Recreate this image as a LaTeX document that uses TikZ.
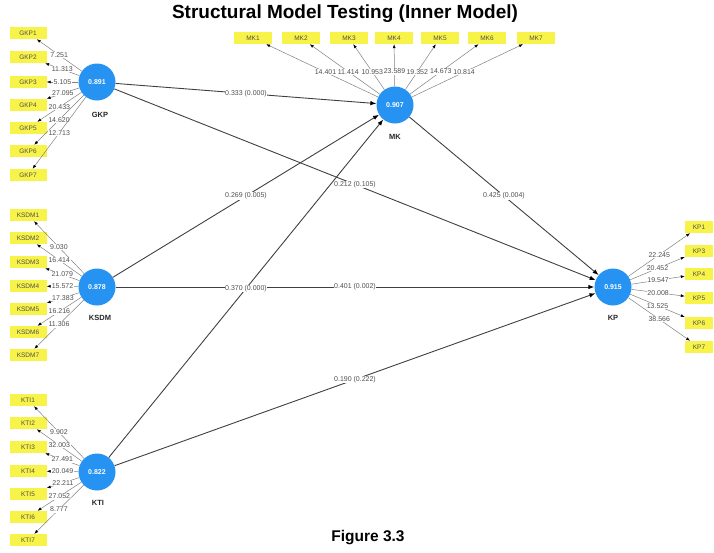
\documentclass[tikz,border=0pt]{standalone}
\usepackage{fontspec}
\setmainfont{Liberation Sans}
\usetikzlibrary{arrows.meta}
\definecolor{lvblue}{RGB}{38,146,242}
\definecolor{mvyellow}{RGB}{248,243,72}
\definecolor{txtgray}{RGB}{80,80,80}

\begin{document}
\begin{tikzpicture}
[every node/.style={inner sep=0pt},
 latent/.style={circle, minimum size=37pt, fill=lvblue, text=white, font=\fontsize{7}{8}\selectfont\bfseries},
 lvname/.style={text=black!85, font=\fontsize{7.5}{9}\selectfont\bfseries},
 manifest/.style={rectangle, minimum width=37pt, minimum height=12pt, fill=mvyellow, text=txtgray, font=\fontsize{6.5}{7}\selectfont},
 weight/.style={fill=white, inner sep=0.6pt, text=txtgray, font=\fontsize{7}{8}\selectfont},
 outer/.style={line width=0.5pt, draw=black!50, -{Latex[length=4pt, width=3pt, color=black]}},
 inner/.style={line width=0.9pt, draw=black!75, -{Latex[length=6pt, width=4.5pt, color=black]}},
 caption/.style={font=\fontsize{15.5}{18}\selectfont\bfseries}]
\useasboundingbox (0pt, 0pt) rectangle (714pt, -552pt);
\node (title) [caption, font=\fontsize{19}{22}\selectfont\bfseries] at (345pt, -14pt) {Structural Model Testing (Inner Model)};
\node (figno) [caption] at (368pt, -538pt) {Figure 3.3};
% latent variables
\node (GKP) [latent] at (97pt, -82pt) {0.891};
\node (KSDM) [latent] at (97pt, -287pt) {0.878};
\node (KTI) [latent] at (97pt, -472pt) {0.822};
\node (MK) [latent] at (395pt, -105pt) {0.907};
\node (KP) [latent] at (613pt, -287pt) {0.915};
\node (GKPname) [lvname] at (100pt, -115pt) {GKP};
\node (KSDMname) [lvname] at (100pt, -318pt) {KSDM};
\node (KTIname) [lvname] at (98pt, -503pt) {KTI};
\node (MKname) [lvname] at (395pt, -137pt) {MK};
\node (KPname) [lvname] at (613pt, -318pt) {KP};
% indicators GKP
\node (GKP1) [manifest] at (28pt, -33pt) {GKP1};
\node (GKP2) [manifest] at (28pt, -57pt) {GKP2};
\node (GKP3) [manifest] at (28pt, -82pt) {GKP3};
\node (GKP4) [manifest] at (28pt, -105pt) {GKP4};
\node (GKP5) [manifest] at (28pt, -128pt) {GKP5};
\node (GKP6) [manifest] at (28pt, -151pt) {GKP6};
\node (GKP7) [manifest] at (28pt, -175pt) {GKP7};
% indicators KSDM
\node (KSDM1) [manifest] at (28pt, -215pt) {KSDM1};
\node (KSDM2) [manifest] at (28pt, -238pt) {KSDM2};
\node (KSDM3) [manifest] at (28pt, -262pt) {KSDM3};
\node (KSDM4) [manifest] at (28pt, -286pt) {KSDM4};
\node (KSDM5) [manifest] at (28pt, -309pt) {KSDM5};
\node (KSDM6) [manifest] at (28pt, -332pt) {KSDM6};
\node (KSDM7) [manifest] at (28pt, -355pt) {KSDM7};
% indicators KTI
\node (KTI1) [manifest] at (28pt, -400pt) {KTI1};
\node (KTI2) [manifest] at (28pt, -423pt) {KTI2};
\node (KTI3) [manifest] at (28pt, -447pt) {KTI3};
\node (KTI4) [manifest] at (28pt, -471pt) {KTI4};
\node (KTI5) [manifest] at (28pt, -494pt) {KTI5};
\node (KTI6) [manifest] at (28pt, -517pt) {KTI6};
\node (KTI7) [manifest] at (28pt, -540pt) {KTI7};
% indicators MK
\node (MK1) [manifest, minimum width=38pt] at (253pt, -38pt) {MK1};
\node (MK2) [manifest, minimum width=38pt] at (301pt, -38pt) {MK2};
\node (MK3) [manifest, minimum width=38pt] at (349pt, -38pt) {MK3};
\node (MK4) [manifest, minimum width=38pt] at (394pt, -38pt) {MK4};
\node (MK5) [manifest, minimum width=38pt] at (440pt, -38pt) {MK5};
\node (MK6) [manifest, minimum width=38pt] at (487pt, -38pt) {MK6};
\node (MK7) [manifest, minimum width=38pt] at (536pt, -38pt) {MK7};
% indicators KP
\node (KP1) [manifest, minimum width=28pt] at (699pt, -227pt) {KP1};
\node (KP3) [manifest, minimum width=28pt] at (699pt, -251pt) {KP3};
\node (KP4) [manifest, minimum width=28pt] at (699pt, -274pt) {KP4};
\node (KP5) [manifest, minimum width=28pt] at (699pt, -298pt) {KP5};
\node (KP6) [manifest, minimum width=28pt] at (699pt, -323pt) {KP6};
\node (KP7) [manifest, minimum width=28pt] at (699pt, -347pt) {KP7};
% outer model
\draw [outer] (GKP) to node [weight] {7.251} (GKP1);
\draw [outer] (GKP) to node [weight] {11.313} (GKP2);
\draw [outer] (GKP) to node [weight] {5.105} (GKP3);
\draw [outer] (GKP) to node [weight] {27.095} (GKP4);
\draw [outer] (GKP) to node [weight] {20.433} (GKP5);
\draw [outer] (GKP) to node [weight] {14.620} (GKP6);
\draw [outer] (GKP) to node [weight] {12.713} (GKP7);
\draw [outer] (KSDM) to node [weight] {9.030} (KSDM1);
\draw [outer] (KSDM) to node [weight] {16.414} (KSDM2);
\draw [outer] (KSDM) to node [weight] {21.079} (KSDM3);
\draw [outer] (KSDM) to node [weight] {15.572} (KSDM4);
\draw [outer] (KSDM) to node [weight] {17.383} (KSDM5);
\draw [outer] (KSDM) to node [weight] {16.216} (KSDM6);
\draw [outer] (KSDM) to node [weight] {11.306} (KSDM7);
\draw [outer] (KTI) to node [weight] {9.902} (KTI1);
\draw [outer] (KTI) to node [weight] {32.003} (KTI2);
\draw [outer] (KTI) to node [weight] {27.491} (KTI3);
\draw [outer] (KTI) to node [weight] {20.049} (KTI4);
\draw [outer] (KTI) to node [weight] {22.211} (KTI5);
\draw [outer] (KTI) to node [weight] {27.052} (KTI6);
\draw [outer] (KTI) to node [weight] {8.777} (KTI7);
\draw [outer] (MK) to node [weight, pos=0.47] {14.401} (MK1);
\draw [outer] (MK) to node [weight, pos=0.45] {11.414} (MK2);
\draw [outer] (MK) to node [weight, pos=0.39] {10.953} (MK3);
\draw [outer] (MK) to node [weight, pos=0.35] {23.589} (MK4);
\draw [outer] (MK) to node [weight, pos=0.39] {19.352} (MK5);
\draw [outer] (MK) to node [weight, pos=0.45] {14.673} (MK6);
\draw [outer] (MK) to node [weight, pos=0.47] {10.814} (MK7);
\draw [outer] (KP) to node [weight] {22.245} (KP1);
\draw [outer] (KP) to node [weight] {20.452} (KP3);
\draw [outer] (KP) to node [weight] {19.547} (KP4);
\draw [outer] (KP) to node [weight] {20.008} (KP5);
\draw [outer] (KP) to node [weight] {13.525} (KP6);
\draw [outer] (KP) to node [weight] {38.566} (KP7);
% inner model
\draw [inner] (GKP) to node [weight] {0.333 (0.000)} (MK);
\draw [inner] (GKP) to node [weight] {0.212 (0.105)} (KP);
\draw [inner] (KSDM) to node [weight] {0.269 (0.005)} (MK);
\draw [inner] (KSDM) to node [weight] {0.401 (0.002)} (KP);
\draw [inner] (KTI) to node [weight] {0.370 (0.000)} (MK);
\draw [inner] (KTI) to node [weight] {0.190 (0.222)} (KP);
\draw [inner] (MK) to node [weight] {0.425 (0.004)} (KP);
\end{tikzpicture}
\end{document}
